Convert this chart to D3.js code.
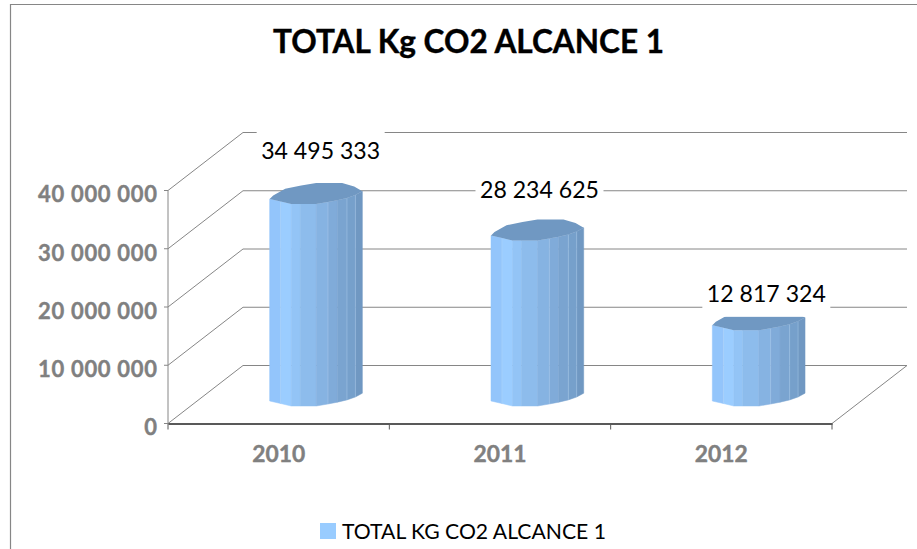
<!DOCTYPE html>
<html lang="en">
<head>
<meta charset="utf-8">
<title>TOTAL Kg CO2 ALCANCE 1</title>
<script src="https://d3js.org/d3.v7.min.js"></script>
<style>
    * { margin: 0; padding: 0; }
    body { background: white; width: 917px; height: 549px; overflow: hidden; }
    text { font-family: Lato, "Open Sans", sans-serif; }
</style>
</head>
<body>
<script>
const categories = ["2010", "2011", "2012"];
const values = [34495333, 28234625, 12817324];
const valueLabels = ["34 495 333", "28 234 625", "12 817 324"];
const yTicks = [0, 10000000, 20000000, 30000000, 40000000];
const yTickLabels = ["0", "10 000 000", "20 000 000", "30 000 000", "40 000 000"];
const seriesName = "TOTAL KG CO2 ALCANCE 1";
const title = "TOTAL Kg CO2 ALCANCE 1";

// cylinder shape, measured from the bar centre
const facetX = [-46.5, -35.5, -25, -16, 0, 11.8, 21.2, 30.8, 39.2, 46.2];
const facetFront = [5.5, 8, 10.5, 10.5, 10.5, 8.5, 6.7, 4.4, 1.5, -2.3];
const facetColors = ["#93c5fb", "#9bcdff", "#93c4f6", "#8dbcec", "#86b3e2", "#80abd9", "#7aa4d0", "#76a0cb", "#7098c2"];
const facetHighlights = [1, 5, 7, 8];
const capBack = [[-46.5, 5.5], [-43, 2], [-31, -4.8], [-15, -8], [0, -10.5], [26, -10.5], [38, -7], [46.2, -2.3]];

// where the label boxes sit, relative to the bar top and centre
const labelLift = [34.6, 32.4, 18];
const labelShift = [4.5, 2, 7.5];

const width = 917;
const height = 549;
const depthX = 75;
const depthY = 58;

const x = d3.scaleBand().domain(categories).range([168, 832]);
const y = d3.scaleLinear().domain([0, 40000000]).range([423.5, 190.5]);

const svg = d3.select("body").append("svg")
    .attr("width", width)
    .attr("height", height);

// outer frame, only the left and top edges are in the picture
svg.append("path")
    .attr("d", `M10.5,${height}V4.5H${width}`)
    .attr("stroke", "#868686")
    .attr("stroke-width", 1.2)
    .attr("fill", "none");

svg.append("text")
    .attr("x", 273)
    .attr("y", 53)
    .attr("font-size", 33)
    .attr("font-weight", "bold")
    .attr("fill", "black")
    .attr("stroke", "black")
    .attr("stroke-width", 0.4)
    .attr("textLength", 391)
    .attr("lengthAdjust", "spacingAndGlyphs")
    .text(title);

// back wall gridlines and side wall
const walls = svg.append("g")
    .attr("fill", "none")
    .attr("stroke", "#868686");

yTicks.forEach(t => {
    const py = y(t);
    walls.append("path")
        .attr("d", `M168,${py}L${168 + depthX},${py - depthY}H${832 + depthX}`);
});

walls.append("path").attr("d", `M168,${y(0)}V${y(40000000)}`);
walls.append("path").attr("d", `M832,${y(0)}L${832 + depthX},${y(0) - depthY}`);

// bars
const bars = svg.selectAll("g.bar")
    .data(values)
    .enter()
    .append("g")
    .attr("class", "bar");

bars.each(function (d, i) {
    const g = d3.select(this);
    const cx = x(categories[i]) + x.bandwidth() / 2 + depthX / 2;
    const bottom = y(0) - depthY / 2 + 1;
    const top = y(d) - depthY / 2;

    facetColors.forEach((c, k) => {
        const x0 = cx + facetX[k];
        const x1 = cx + facetX[k + 1];
        g.append("path")
            .attr("d", `M${x0},${top + facetFront[k]}L${x1},${top + facetFront[k + 1]}` +
                `L${x1},${bottom + facetFront[k + 1]}L${x0},${bottom + facetFront[k]}Z`)
            .attr("fill", c)
            .attr("stroke", c)
            .attr("stroke-width", 0.5);
    });

    facetHighlights.forEach(k => {
        g.append("line")
            .attr("x1", cx + facetX[k]).attr("x2", cx + facetX[k])
            .attr("y1", top + facetFront[k]).attr("y2", bottom + facetFront[k])
            .attr("stroke", "#b4d4f4")
            .attr("stroke-opacity", 0.55)
            .attr("stroke-width", 0.8);
    });

    const cap = capBack.map(p => [cx + p[0], top + p[1]]);
    for (let k = facetX.length - 1; k > 0; k--) {
        cap.push([cx + facetX[k], top + facetFront[k]]);
    }
    g.append("path")
        .attr("d", d3.line().curve(d3.curveLinearClosed)(cap))
        .attr("fill", "#7098c2");
});

// axis on the front edge
const xAxis = d3.axisBottom(x).tickSize(0);
const axisG = svg.append("g")
    .attr("transform", `translate(0,${y(0)})`)
    .call(xAxis);
axisG.select(".domain").attr("stroke", "#595959").attr("stroke-width", 2);
axisG.selectAll("text")
    .attr("font-family", "Lato")
    .attr("font-size", 22)
    .attr("font-weight", "bold")
    .attr("fill", "#808080")
    .attr("stroke", "#808080")
    .attr("stroke-width", 0.4)
    .attr("dy", 0)
    .attr("y", 38.5)
    .attr("textLength", 53)
    .attr("lengthAdjust", "spacingAndGlyphs");

[168, x("2011"), x("2012"), 832].forEach(px => {
    svg.append("line")
        .attr("x1", px).attr("x2", px)
        .attr("y1", y(0)).attr("y2", y(0) + 6)
        .attr("stroke", "#595959");
});

yTicks.forEach((t, i) => {
    svg.append("line")
        .attr("x1", 164).attr("x2", 168)
        .attr("y1", y(t)).attr("y2", y(t))
        .attr("stroke", "#868686");
    const label = svg.append("text")
        .attr("x", 157)
        .attr("y", y(t) + 11.8)
        .attr("text-anchor", "end")
        .attr("font-size", 22)
        .attr("font-weight", "bold")
        .attr("fill", "#808080")
        .attr("stroke", "#808080")
        .attr("stroke-width", 0.4)
        .text(yTickLabels[i]);
    if (yTickLabels[i].length > 1) {
        label.attr("textLength", 119).attr("lengthAdjust", "spacing");
    }
});

// value labels sit on a white box that hides whatever is behind them
values.forEach((d, i) => {
    const cx = x(categories[i]) + x.bandwidth() / 2 + depthX / 2 + labelShift[i];
    const baseline = y(d) - depthY / 2 - labelLift[i];
    const g = svg.append("g");
    g.append("rect")
        .attr("x", cx - 64)
        .attr("y", baseline - 28)
        .attr("width", 128)
        .attr("height", 43)
        .attr("fill", "white");
    g.append("text")
        .attr("x", cx)
        .attr("y", baseline)
        .attr("text-anchor", "middle")
        .attr("font-size", 23)
        .attr("fill", "black")
        .attr("textLength", 119)
        .attr("lengthAdjust", "spacingAndGlyphs")
        .text(valueLabels[i]);
});

// legend
svg.append("rect")
    .attr("x", 320).attr("y", 523)
    .attr("width", 16).attr("height", 16)
    .attr("fill", "#99ccff");
svg.append("text")
    .attr("x", 342)
    .attr("y", 539)
    .attr("font-size", 22)
    .attr("fill", "black")
    .attr("textLength", 264)
    .attr("lengthAdjust", "spacingAndGlyphs")
    .text(seriesName);
</script>
</body>
</html>
